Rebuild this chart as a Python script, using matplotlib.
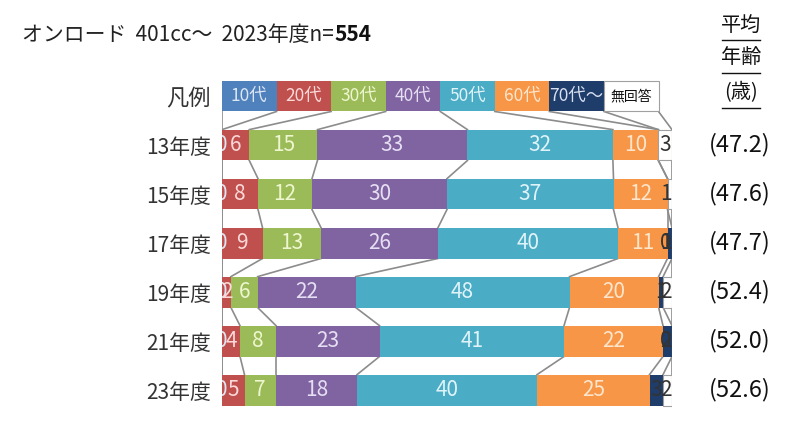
import numpy as np
import matplotlib
matplotlib.use("Agg")
from matplotlib import pyplot as plt
from matplotlib.lines import Line2D

plt.rcParams['font.family'] = ['Noto Sans CJK JP', 'DejaVu Sans']

# data (%)
years = ['13年度', '15年度', '17年度', '19年度', '21年度', '23年度']
groups = ['10代', '20代', '30代', '40代', '50代', '60代', '70代～', '無回答']
age10 = [0, 0, 0, 0, 0, 0]
age20 = [6, 8, 9, 2, 4, 5]
age30 = [15, 12, 13, 6, 8, 7]
age40 = [33, 30, 26, 22, 23, 18]
age50 = [32, 37, 40, 48, 41, 40]
age60 = [10, 12, 11, 20, 22, 25]
age70 = [0, 0, 1, 1, 2, 3]
no_answer = [3, 1, 0, 2, 0, 2]
avg_age = ['(47.2)', '(47.6)', '(47.7)', '(52.4)', '(52.0)', '(52.6)']

colors = ['#4f81bd', '#c0504d', '#9bbb59', '#8064a2', '#4bacc6', '#f79646', '#1f3d6b', '#ffffff']
txt_colors = ['#dce6f4', '#fbd9d9', '#eef6cf', '#e6def2', '#dff3f8', '#fde5cc', '#333333', '#333333']

vals = np.array([age10, age20, age30, age40, age50, age60, age70, no_answer], dtype=float).T
widths = vals / vals.sum(axis=1, keepdims=True) * 100
cum = np.hstack([np.zeros((len(years), 1)), np.cumsum(widths, axis=1)])

fig = plt.figure(figsize=(8, 4.32), dpi=100)
ax = fig.add_axes([0.2775, 0.029, 0.5625, 0.8167])
h = 0.63

# legend row
leg_w = 97.0 / len(groups)
leg_left = np.arange(len(groups)) * leg_w
ax.barh([-1] * len(groups), [leg_w] * len(groups), left=leg_left, height=h,
        color=colors, edgecolor=['none'] * 7 + ['#a0a0a0'], lw=0.8, zorder=3)
for j, g in enumerate(groups):
    fs = 10 if j == 7 else 12.5
    ax.text(leg_left[j] + leg_w / 2, -1, g, ha='center', va='center', fontsize=fs,
            color=txt_colors[j] if j < 6 else ('#d8e0f0' if j == 6 else '#111111'), zorder=4)
leg_cum = np.append(leg_left, 97.0)

# bars
for i in range(len(years)):
    for j in range(len(groups)):
        ec = '#a0a0a0' if j == 7 else 'none'
        ax.barh(i, widths[i, j], left=cum[i, j], height=h, color=colors[j],
                edgecolor=ec, lw=0.8, zorder=3)
    for j in range(len(groups)):
        if j == 6 and vals[i, j] == 0:
            continue  # 70代～ not shown when empty
        x = cum[i, j] + widths[i, j] / 2
        if j >= 6:
            x = min(x, 98.6)
        ax.text(x, i, f'{int(vals[i, j])}', ha='center', va='center',
                fontsize=15, color=txt_colors[j], zorder=5, clip_on=(j == 0))

# series lines
rows = [leg_cum] + [cum[i] for i in range(len(years))]
for k in range(len(rows) - 1):
    y0 = k - 1 + h / 2
    y1 = k - h / 2
    for j in range(len(groups) + 1):
        ax.plot([rows[k][j], rows[k + 1][j]], [y0, y1], color='#8c8c8c', lw=1.2, zorder=2)

ax.set_xlim(0, 100)
ax.set_ylim(5.6, -1.6)
ax.set_yticks(range(-1, len(years)))
ax.set_yticklabels(['凡例'] + years, fontsize=15, color='#333333')
ax.get_yticklabels()[0].set_fontsize(16)
ax.tick_params(axis='y', length=0, pad=8)
ax.set_xticks([])
for s in ax.spines.values():
    s.set_visible(False)

# average ages
for i, a in enumerate(avg_age):
    ax.text(1.151, i, a, transform=ax.get_yaxis_transform(), ha='center', va='center',
            fontsize=17, color='#111111')

# header
for txt, y in [('平均', 0.942), ('年齢', 0.866), ('(歳)', 0.785)]:
    fig.text(0.926, y, txt, ha='center', va='center', fontsize=14.5, color='#111111')
    fig.add_artist(Line2D([0.902, 0.950], [y - 0.034, y - 0.034], color='#111111', lw=1))

# title
t = fig.text(0.028, 0.919, 'オンロード  401cc～  2023年度n=', ha='left', va='center',
             fontsize=15, color='#222222')
fig.canvas.draw()
bb = t.get_window_extent()
fig.text(bb.x1 / fig.bbox.width, 0.919, '554', ha='left', va='center', fontsize=15,
         fontweight='bold', color='#111111')

fig.savefig('out.png', dpi=100)
